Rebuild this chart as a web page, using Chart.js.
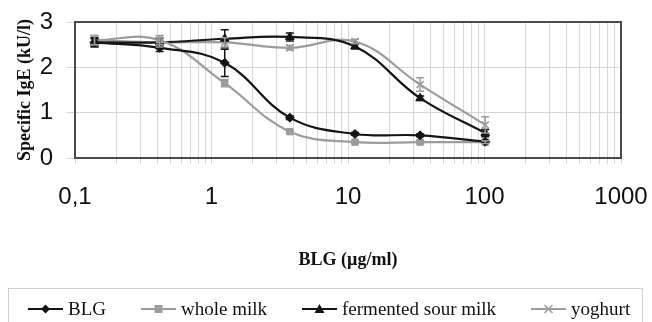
<!DOCTYPE html>
<html>
<head>
<meta charset="utf-8">
<script src="https://cdn.jsdelivr.net/npm/chart.js@4/dist/chart.umd.min.js"></script>
<style>
    html, body { margin: 0; padding: 0; background: #fff; }
    #contenedor { position: relative; width: 652px; height: 322px; overflow: hidden; }
    #leyenda {
        position: absolute; left: 8px; top: 288px; width: 635px; height: 40px;
        border: 1px solid #cfcfcf; box-sizing: border-box;
        font-family: "Liberation Serif", serif; font-size: 19px; color: #111;
        padding: 9px 0 0 19px; white-space: nowrap;
    }
    .item { display: inline-flex; align-items: center; margin-right: 35px; line-height: 22px; }
    .item svg { margin-right: 5px; }
</style>
</head>
<body>
<div id="contenedor">
    <canvas id="chartIgE" width="652" height="322"></canvas>
    <div id="leyenda"></div>
</div>
<script>
// Concentraciones de BLG (eje x, escala log)
const concentraciones = [0.139, 0.417, 1.25, 3.75, 11.25, 33.75, 101.25];
const nombresSeries = ['BLG', 'whole milk', 'fermented sour milk', 'yoghurt'];

// Valores de IgE especifica (kU/l)
const valoresBLG = [2.55, 2.43, 2.1, 0.89, 0.53, 0.5, 0.36];
const valoresLeche = [2.6, 2.6, 1.65, 0.58, 0.35, 0.35, 0.35];
const valoresFermentada = [2.55, 2.55, 2.63, 2.67, 2.46, 1.32, 0.55];
const valoresYogur = [2.6, 2.55, 2.55, 2.43, 2.57, 1.62, 0.73];

// Barras de error (+/-)
const erroresBLG = [0.08, 0.08, 0.3, 0.04, 0.03, 0.03, 0.03];
const erroresLeche = [0.1, 0.1, 0.08, 0.04, 0.03, 0.03, 0.03];
const erroresFermentada = [0.1, 0.1, 0.2, 0.09, 0.05, 0.05, 0.08];
const erroresYogur = [0.1, 0.1, 0.1, 0.05, 0.05, 0.15, 0.18];

// Ticks
const ticksX = [0.1, 1, 10, 100, 1000];
const etiquetasX = ['0,1', '1', '10', '100', '1000'];
const ticksY = [0, 1, 2, 3];

// lineas menores de la grilla (2..9 de cada decada)
const ticksMenoresX = [];
for (let d = 0; d < ticksX.length - 1; d++) {
    for (let m = 1; m <= 9; m++) {
        ticksMenoresX.push(Number((m * ticksX[d]).toPrecision(6)));
    }
}
ticksMenoresX.push(ticksX[ticksX.length - 1]);

function armarPuntos(valores) {
    return concentraciones.map((c, i) => ({ x: c, y: valores[i] }));
}

const NEGRO = '#151515';
const GRIS = '#9c9c9c';

const series = [
    { label: nombresSeries[0], data: armarPuntos(valoresBLG), errores: erroresBLG, color: NEGRO, estilo: 'rectRot', radio: 4.5 },
    { label: nombresSeries[1], data: armarPuntos(valoresLeche), errores: erroresLeche, color: GRIS, estilo: 'rect', radio: 4.5 },
    { label: nombresSeries[2], data: armarPuntos(valoresFermentada), errores: erroresFermentada, color: NEGRO, estilo: 'triangle', radio: 5 },
    { label: nombresSeries[3], data: armarPuntos(valoresYogur), errores: erroresYogur, color: GRIS, estilo: 'crossRot', radio: 5 }
];

// Plugin: marco del area de grafico
const pluginMarco = {
    id: 'marco',
    beforeDatasetsDraw(chart) {
        const a = chart.chartArea;
        const ctx = chart.ctx;
        ctx.save();
        ctx.strokeStyle = '#4a4a4a';
        ctx.lineWidth = 2;
        ctx.strokeRect(a.left, a.top, a.right - a.left, a.bottom - a.top);
        ctx.restore();
    }
};

// Plugin: barras de error usando las escalas
const pluginErrores = {
    id: 'errores',
    afterDatasetsDraw(chart) {
        const ctx = chart.ctx;
        const ex = chart.scales.x, ey = chart.scales.y;
        chart.data.datasets.forEach(ds => {
            if (!ds.errores) return;
            ctx.save();
            ctx.strokeStyle = ds.borderColor;
            ctx.lineWidth = 1.5;
            ds.data.forEach((p, i) => {
                const e = ds.errores[i];
                const px = ex.getPixelForValue(p.x);
                const y1 = ey.getPixelForValue(p.y + e);
                const y2 = ey.getPixelForValue(p.y - e);
                ctx.beginPath();
                ctx.moveTo(px, y1); ctx.lineTo(px, y2);
                ctx.moveTo(px - 4, y1); ctx.lineTo(px + 4, y1);
                ctx.moveTo(px - 4, y2); ctx.lineTo(px + 4, y2);
                ctx.stroke();
            });
            ctx.restore();
        });
    }
};

const ctx = document.getElementById('chartIgE');
const grafico = new Chart(ctx.getContext('2d'), {
    type: 'line',
    data: {
        datasets: series.map(s => ({
            label: s.label,
            data: s.data,
            errores: s.errores,
            borderColor: s.color,
            backgroundColor: s.color,
            borderWidth: 2.2,
            tension: 0.4,
            pointStyle: s.estilo,
            pointRadius: s.radio,
            pointBorderWidth: s.estilo === 'crossRot' ? 1.5 : 1,
            fill: false
        }))
    },
    options: {
        responsive: false,
        animation: false,
        layout: { padding: { left: 0, right: 31, top: 22, bottom: 40 } },
        plugins: {
            legend: { display: false },
            tooltip: { enabled: false }
        },
        scales: {
            x: {
                type: 'logarithmic',
                min: 0.1,
                max: 1000,
                afterBuildTicks: (scale) => { scale.ticks = ticksMenoresX.map(v => ({ value: v })); },
                afterFit: (scale) => {
                    scale.height = 124;
                    scale.paddingLeft = 0;
                    scale.paddingRight = 0;
                },
                grid: { color: '#d6d6d6', lineWidth: 1, tickLength: 6 },
                border: { display: false },
                ticks: {
                    autoSkip: false,
                    maxRotation: 0,
                    padding: 19,
                    color: '#111',
                    font: { family: 'Liberation Sans', size: 24 },
                    callback: (valor) => {
                        const i = ticksX.findIndex(t => Math.abs(t - valor) < t * 1e-6);
                        return i >= 0 ? etiquetasX[i] : '';
                    }
                },
                title: {
                    display: true,
                    text: 'BLG (µg/ml)',
                    color: '#111',
                    font: { family: 'Liberation Serif', size: 18, weight: 'bold' },
                    padding: { top: 0, bottom: 11 }
                }
            },
            y: {
                min: 0,
                max: 3,
                afterBuildTicks: (scale) => { scale.ticks = ticksY.map(v => ({ value: v })); },
                afterFit: (scale) => {
                    scale.width = 75;
                    scale.paddingTop = 0;
                    scale.paddingBottom = 0;
                },
                grid: { color: '#d6d6d6', lineWidth: 1, tickLength: 8 },
                border: { display: false },
                ticks: {
                    padding: 14,
                    color: '#111',
                    font: { family: 'Liberation Sans', size: 24 }
                },
                title: {
                    display: true,
                    text: 'Specific IgE (kU/l)',
                    color: '#111',
                    font: { family: 'Liberation Serif', size: 18, weight: 'bold' },
                    padding: { top: 15, bottom: 0 }
                }
            }
        }
    },
    plugins: [pluginMarco, pluginErrores]
});

// Leyenda en HTML (linea + marcador)
function marcadorSVG(estilo, color) {
    const cx = 17.5, cy = 7;
    if (estilo === 'rectRot') return `<polygon points="${cx},${cy - 4.5} ${cx + 4.5},${cy} ${cx},${cy + 4.5} ${cx - 4.5},${cy}" fill="${color}"/>`;
    if (estilo === 'rect') return `<rect x="${cx - 4}" y="${cy - 4}" width="8" height="8" fill="${color}"/>`;
    if (estilo === 'triangle') return `<polygon points="${cx},${cy - 5} ${cx + 5},${cy + 4} ${cx - 5},${cy + 4}" fill="${color}"/>`;
    return `<path d="M${cx - 4} ${cy - 4} L${cx + 4} ${cy + 4} M${cx + 4} ${cy - 4} L${cx - 4} ${cy + 4}" stroke="${color}" stroke-width="1.5"/>`;
}

const leyenda = document.getElementById('leyenda');
grafico.data.datasets.forEach(ds => {
    const item = document.createElement('span');
    item.className = 'item';
    item.innerHTML = `<svg width="35" height="14"><line x1="0" y1="7" x2="35" y2="7" stroke="${ds.borderColor}" stroke-width="2"/>${marcadorSVG(ds.pointStyle, ds.borderColor)}</svg><span>${ds.label}</span>`;
    leyenda.appendChild(item);
});
</script>
</body>
</html>
